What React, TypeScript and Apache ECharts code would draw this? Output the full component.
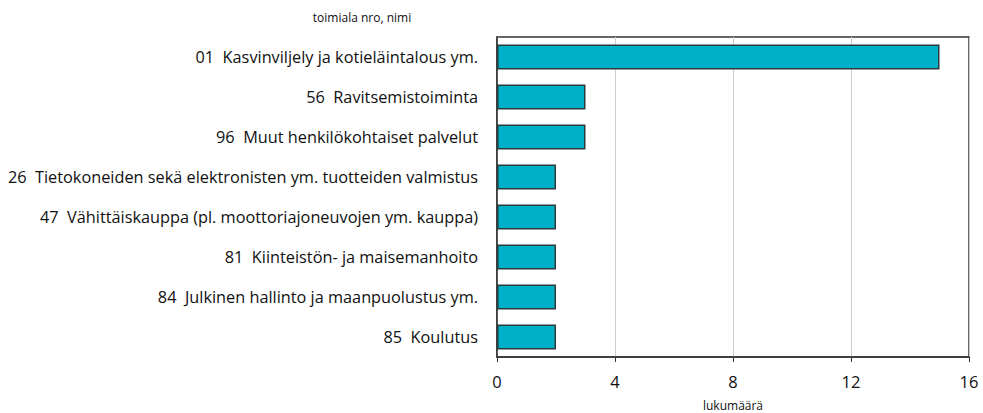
import React, { useEffect, useRef } from "react";
import * as echarts from "echarts";

const categories = [
  "01  Kasvinviljely ja kotieläintalous ym.",
  "56  Ravitsemistoiminta",
  "96  Muut henkilökohtaiset palvelut",
  "26  Tietokoneiden sekä elektronisten ym. tuotteiden valmistus",
  "47  Vähittäiskauppa (pl. moottoriajoneuvojen ym. kauppa)",
  "81  Kiinteistön- ja maisemanhoito",
  "84  Julkinen hallinto ja maanpuolustus ym.",
  "85  Koulutus",
];
const values = [15, 3, 3, 2, 2, 2, 2, 2];
const xTicks = [0, 4, 8, 12, 16];
const yAxisTitle = "toimiala nro, nimi";
const xAxisTitle = "lukumäärä";

const FONT = "'Open Sans', 'Noto Sans', sans-serif";

export default function App() {
  const ref = useRef<HTMLDivElement>(null);
  useEffect(() => {
    if (!ref.current) return;
    document.body.style.margin = "0";
    const chart = echarts.init(ref.current, undefined, { renderer: "svg" });
    chart.setOption({
      animation: false,
      backgroundColor: "#ffffff",
      grid: {
        left: 497, right: 14, top: 37, bottom: 56,
        containLabel: false, outerBoundsMode: "none",
        show: true, borderColor: "#333333", borderWidth: 1.5,
      },
      graphic: [
        { type: "text", x: 362, y: 17, style: { text: yAxisTitle, fontSize: 12, fontFamily: FONT, fill: "#111", align: "center", verticalAlign: "middle" } },
      ],
      xAxis: {
        type: "value",
        min: xTicks[0],
        max: xTicks[xTicks.length - 1],
        interval: 4,
        name: xAxisTitle,
        nameLocation: "middle",
        nameGap: 41,
        nameTextStyle: { fontSize: 12, fontFamily: FONT, color: "#111", lineHeight: 14 },
        axisLine: { show: true, lineStyle: { color: "#333", width: 1.5 } },
        axisTick: { show: true, length: 5, lineStyle: { color: "#333" } },
        axisLabel: { fontSize: 16.5, fontFamily: FONT, color: "#111", margin: 16 },
        splitLine: { show: true, lineStyle: { color: "#cccccc", width: 1 } },
      },
      yAxis: {
        type: "category",
        data: categories,
        inverse: true,
        axisLine: { show: true, lineStyle: { color: "#333", width: 1.5 } },
        axisTick: { show: false },
        axisLabel: { fontSize: 16.3, fontFamily: FONT, color: "#111", margin: 19 },
      },
      series: [
        {
          type: "bar",
          data: values,
          barWidth: 25,
          itemStyle: { color: "#00b0c8", borderColor: "#2a3a3c", borderWidth: 1.5 },
        },
      ],
    });
    return () => chart.dispose();
  }, []);
  return <div ref={ref} style={{ width: 983, height: 413 }} />;
}
